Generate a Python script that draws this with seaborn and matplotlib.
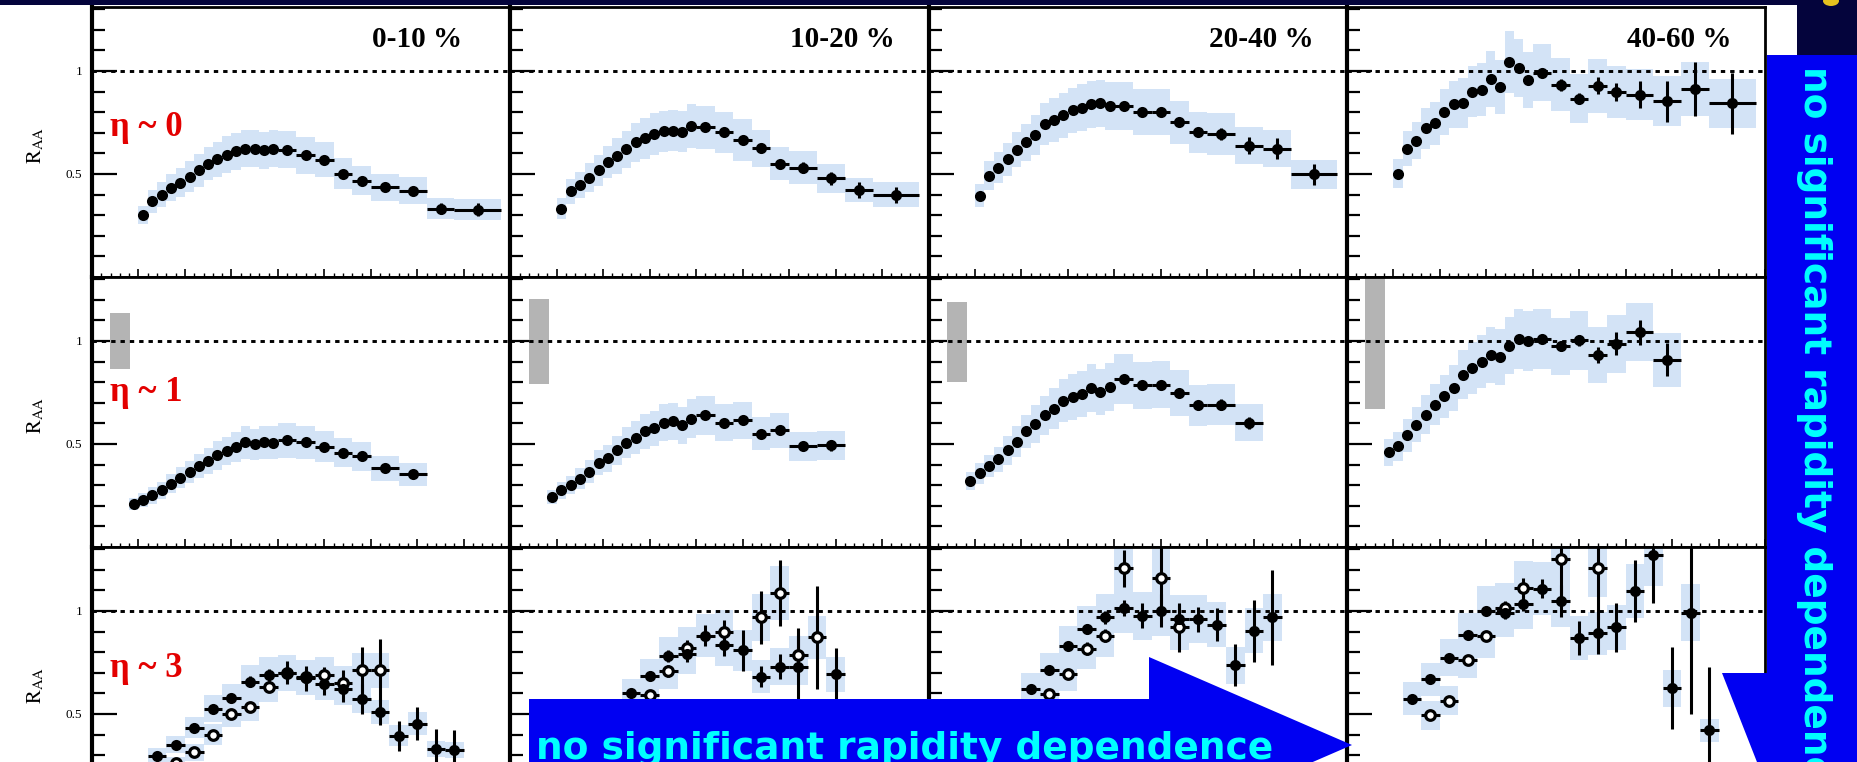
import numpy as np
import pandas as pd
import matplotlib
matplotlib.use("Agg")
import matplotlib.pyplot as plt
from matplotlib.patches import Polygon, Rectangle, Ellipse
from matplotlib.ticker import FixedLocator, MultipleLocator, FuncFormatter
import seaborn as sns

sns.set_theme(style="white")
plt.rcParams["font.family"] = ["Liberation Serif", "DejaVu Serif"]
plt.rcParams["mathtext.fontset"] = "stix"

nan = np.nan

# ---------------------------------------------------------------- labels
CENTRALITY = ["0-10 %", "10-20 %", "20-40 %", "40-60 %"]
ETA_LABELS = ["\u03b7 ~ 0", "\u03b7 ~ 1", "\u03b7 ~ 3"]
ETA_LABEL_Y = [0.727, 0.749, 0.720]
BANNER_TEXT = "no significant rapidity dependence"

# ---------------------------------------------------------------- eta ~ 0
PT_ETA0 = [1.1, 1.3, 1.5, 1.7, 1.9, 2.1, 2.3, 2.5, 2.7, 2.9, 3.1, 3.3, 3.5, 3.7, 3.9,
           4.2, 4.6, 5.0, 5.4, 5.8, 6.3, 6.9, 7.5, 8.3]
PT_ETA0_HW = [0.1, 0.1, 0.1, 0.1, 0.1, 0.1, 0.1, 0.1, 0.1, 0.1, 0.1, 0.1, 0.1, 0.1, 0.1,
              0.2, 0.2, 0.2, 0.2, 0.2, 0.3, 0.3, 0.3, 0.5]

RAA_ETA0_C0 = [0.300, 0.367, 0.400, 0.434, 0.458, 0.487, 0.518, 0.550, 0.571, 0.593, 0.609, 0.622,
               0.622, 0.614, 0.622, 0.617, 0.590, 0.569, 0.502, 0.467, 0.435, 0.418, 0.332, 0.327]
STAT_ETA0_C0 = [0.005, 0.005, 0.005, 0.005, 0.005, 0.005, 0.005, 0.005, 0.005, 0.005, 0.005, 0.005,
                0.005, 0.005, 0.005, 0.008, 0.010, 0.012, 0.013, 0.015, 0.018, 0.020, 0.025, 0.030]
SYS_ETA0_C0 = [0.045, 0.055, 0.060, 0.065, 0.070, 0.075, 0.080, 0.080, 0.085, 0.090, 0.090, 0.090,
               0.090, 0.090, 0.090, 0.090, 0.090, 0.085, 0.075, 0.070, 0.065, 0.065, 0.050, 0.050]

RAA_ETA0_C1 = [0.332, 0.415, 0.446, 0.482, 0.518, 0.558, 0.587, 0.619, 0.654, 0.673, 0.694, 0.707,
               0.710, 0.705, 0.733, 0.726, 0.702, 0.665, 0.625, 0.550, 0.531, 0.478, 0.422, 0.399]
STAT_ETA0_C1 = [0.006, 0.006, 0.006, 0.006, 0.006, 0.006, 0.006, 0.006, 0.006, 0.006, 0.006, 0.006,
                0.006, 0.006, 0.006, 0.010, 0.012, 0.015, 0.018, 0.020, 0.025, 0.030, 0.040, 0.040]
SYS_ETA0_C1 = [0.050, 0.060, 0.065, 0.070, 0.075, 0.080, 0.085, 0.090, 0.095, 0.100, 0.100, 0.100,
               0.100, 0.100, 0.105, 0.105, 0.100, 0.100, 0.090, 0.080, 0.080, 0.070, 0.060, 0.060]

RAA_ETA0_C2 = [0.394, 0.491, 0.530, 0.571, 0.617, 0.654, 0.689, 0.742, 0.762, 0.785, 0.809, 0.821,
               0.837, 0.842, 0.829, 0.829, 0.800, 0.800, 0.750, 0.702, 0.694, 0.638, 0.622, 0.498]
STAT_ETA0_C2 = [0.006, 0.006, 0.006, 0.006, 0.006, 0.006, 0.006, 0.006, 0.006, 0.006, 0.006, 0.006,
                0.006, 0.006, 0.006, 0.010, 0.012, 0.015, 0.018, 0.020, 0.030, 0.040, 0.050, 0.050]
SYS_ETA0_C2 = [0.055, 0.070, 0.075, 0.080, 0.085, 0.090, 0.095, 0.100, 0.105, 0.110, 0.110, 0.115,
               0.115, 0.115, 0.115, 0.115, 0.110, 0.110, 0.105, 0.100, 0.100, 0.090, 0.090, 0.070]

RAA_ETA0_C3 = [0.502, 0.622, 0.662, 0.721, 0.746, 0.800, 0.837, 0.845, 0.900, 0.909, 0.962, 0.922,
               1.045, 1.013, 0.957, 0.992, 0.933, 0.866, 0.928, 0.898, 0.885, 0.853, 0.912, 0.842]
STAT_ETA0_C3 = [0.008, 0.008, 0.008, 0.008, 0.008, 0.008, 0.008, 0.008, 0.008, 0.008, 0.008, 0.008,
                0.008, 0.008, 0.008, 0.015, 0.030, 0.025, 0.040, 0.045, 0.064, 0.100, 0.130, 0.147]
SYS_ETA0_C3 = [0.070, 0.085, 0.090, 0.100, 0.105, 0.110, 0.115, 0.120, 0.125, 0.130, 0.135, 0.130,
               0.150, 0.140, 0.135, 0.140, 0.130, 0.120, 0.130, 0.125, 0.125, 0.120, 0.130, 0.120]

# ---------------------------------------------------------------- eta ~ 1
PT_ETA1 = [0.9, 1.1, 1.3, 1.5, 1.7, 1.9, 2.1, 2.3, 2.5, 2.7, 2.9, 3.1, 3.3, 3.5, 3.7, 3.9,
           4.2, 4.6, 5.0, 5.4, 5.8, 6.3, 6.9]
PT_ETA1_HW = [0.1, 0.1, 0.1, 0.1, 0.1, 0.1, 0.1, 0.1, 0.1, 0.1, 0.1, 0.1, 0.1, 0.1, 0.1, 0.1,
              0.2, 0.2, 0.2, 0.2, 0.2, 0.3, 0.3]

RAA_ETA1_C0 = [0.208, 0.228, 0.251, 0.275, 0.307, 0.337, 0.364, 0.393, 0.417, 0.446, 0.466, 0.485,
               0.509, 0.498, 0.509, 0.506, 0.518, 0.509, 0.486, 0.457, 0.441, 0.382, 0.353]
STAT_ETA1_C0 = [0.005, 0.005, 0.005, 0.005, 0.005, 0.005, 0.005, 0.005, 0.005, 0.005, 0.005, 0.005,
                0.005, 0.005, 0.005, 0.005, 0.008, 0.010, 0.012, 0.013, 0.015, 0.018, 0.020]
SYS_ETA1_C0 = [0.030, 0.035, 0.040, 0.040, 0.045, 0.050, 0.055, 0.060, 0.065, 0.070, 0.070, 0.075,
               0.080, 0.075, 0.080, 0.080, 0.085, 0.080, 0.075, 0.070, 0.070, 0.060, 0.055]

RAA_ETA1_C1 = [0.243, 0.275, 0.300, 0.332, 0.366, 0.409, 0.430, 0.469, 0.506, 0.530, 0.562, 0.575,
               0.602, 0.610, 0.591, 0.623, 0.639, 0.602, 0.615, 0.549, 0.567, 0.489, 0.493]
STAT_ETA1_C1 = [0.006, 0.006, 0.006, 0.006, 0.006, 0.006, 0.006, 0.006, 0.006, 0.006, 0.006, 0.006,
                0.006, 0.006, 0.006, 0.006, 0.010, 0.012, 0.015, 0.018, 0.020, 0.020, 0.025]
SYS_ETA1_C1 = [0.035, 0.040, 0.045, 0.050, 0.055, 0.060, 0.065, 0.070, 0.075, 0.080, 0.085, 0.085,
               0.090, 0.090, 0.090, 0.095, 0.095, 0.090, 0.090, 0.080, 0.085, 0.070, 0.070]

RAA_ETA1_C2 = [0.320, 0.357, 0.393, 0.425, 0.470, 0.510, 0.562, 0.597, 0.639, 0.671, 0.710, 0.728,
               0.742, 0.771, 0.752, 0.776, 0.816, 0.784, 0.787, 0.747, 0.687, 0.691, 0.602]
STAT_ETA1_C2 = [0.006, 0.006, 0.006, 0.006, 0.006, 0.006, 0.006, 0.006, 0.006, 0.006, 0.006, 0.006,
                0.006, 0.006, 0.006, 0.006, 0.010, 0.012, 0.015, 0.018, 0.020, 0.025, 0.030]
SYS_ETA1_C2 = [0.045, 0.050, 0.055, 0.060, 0.070, 0.075, 0.080, 0.090, 0.095, 0.100, 0.105, 0.110,
               0.110, 0.115, 0.110, 0.115, 0.120, 0.115, 0.115, 0.110, 0.100, 0.100, 0.090]

RAA_ETA1_C3 = [0.460, 0.489, 0.543, 0.594, 0.642, 0.691, 0.731, 0.771, 0.836, 0.868, 0.900, 0.932,
               0.921, 0.977, 1.008, 1.000, 1.008, 0.973, 1.002, 0.932, 0.986, 1.042, 0.908]
STAT_ETA1_C3 = [0.008, 0.008, 0.008, 0.008, 0.008, 0.008, 0.008, 0.008, 0.008, 0.008, 0.008, 0.008,
                0.008, 0.008, 0.008, 0.008, 0.015, 0.020, 0.025, 0.040, 0.056, 0.060, 0.080]
SYS_ETA1_C3 = [0.065, 0.070, 0.080, 0.085, 0.095, 0.100, 0.105, 0.110, 0.120, 0.125, 0.130, 0.135,
               0.135, 0.140, 0.145, 0.145, 0.145, 0.140, 0.145, 0.135, 0.140, 0.140, 0.130]

# normalisation uncertainty (grey box around unity)
NORM_PT = [0.61]
NORM_HW = [0.215]
NORM_LO = [0.865, 0.790, 0.800, 0.670]
NORM_HI = [1.134, 1.205, 1.190, 1.330]

# ---------------------------------------------------------------- eta ~ 3 (two charge signs)
PT_ETA3 = [1.4, 1.8, 2.2, 2.6, 3.0, 3.4, 3.8, 4.2, 4.6, 5.0, 5.4, 5.8, 6.2, 6.6, 7.0, 7.4, 7.8]
PT_ETA3_HW = [0.2, 0.2, 0.2, 0.2, 0.2, 0.2, 0.2, 0.2, 0.2, 0.2, 0.2, 0.2, 0.2, 0.2, 0.2, 0.2, 0.2]

RAA_NEG_C0 = [0.298, 0.351, 0.434, 0.525, 0.576, 0.657, 0.689, 0.700, 0.673, 0.646, 0.620, 0.574,
              0.509, 0.394, 0.453, 0.330, 0.325]
STAT_NEG_C0 = [0.015, 0.015, 0.020, 0.020, 0.020, 0.025, 0.030, 0.056, 0.060, 0.056, 0.064, 0.072,
               0.064, 0.072, 0.080, 0.096, 0.096]
SYS_NEG_C0 = [0.035, 0.040, 0.050, 0.065, 0.070, 0.080, 0.085, 0.085, 0.080, 0.080, 0.075, 0.070,
              0.060, 0.050, 0.055, 0.040, 0.040]
RAA_POS_C0 = [nan, 0.260, 0.314, 0.400, 0.498, 0.533, 0.633, 0.697, 0.680, 0.689, 0.652, 0.713,
              0.713, nan, nan, nan, nan]
STAT_POS_C0 = [nan, 0.015, 0.015, 0.020, 0.020, 0.020, 0.025, 0.030, 0.040, 0.040, 0.060, 0.110,
               0.150, nan, nan, nan, nan]
SYS_POS_C0 = [nan, 0.030, 0.040, 0.050, 0.060, 0.065, 0.075, 0.085, 0.080, 0.085, 0.080, 0.085,
              0.085, nan, nan, nan, nan]

RAA_NEG_C1 = [nan, nan, nan, 0.601, 0.686, 0.781, 0.790, 0.880, 0.833, 0.809, 0.681, 0.729,
              0.729, nan, 0.692, nan, nan]
STAT_NEG_C1 = [nan, nan, nan, 0.020, 0.020, 0.030, 0.040, 0.050, 0.050, 0.100, 0.050, 0.060,
               0.190, nan, 0.130, nan, nan]
SYS_NEG_C1 = [nan, nan, nan, 0.070, 0.080, 0.090, 0.095, 0.105, 0.100, 0.100, 0.080, 0.090,
              0.090, nan, 0.085, nan, nan]
RAA_POS_C1 = [nan, nan, nan, nan, 0.590, 0.708, 0.820, nan, 0.896, nan, 0.968, 1.088,
              0.785, 0.872, nan, nan, nan]
STAT_POS_C1 = [nan, nan, nan, nan, 0.020, 0.030, 0.040, nan, 0.060, nan, 0.130, 0.160,
               0.100, 0.250, nan, nan, nan]
SYS_POS_C1 = [nan, nan, nan, nan, 0.070, 0.085, 0.100, nan, 0.110, nan, 0.115, 0.130,
              0.095, 0.105, nan, nan, nan]

RAA_NEG_C2 = [nan, nan, 0.622, 0.713, 0.828, 0.912, 0.968, 1.013, 0.976, 1.000, 0.960, 0.960,
              0.933, 0.737, 0.904, 0.968, nan]
STAT_NEG_C2 = [nan, nan, 0.020, 0.020, 0.020, 0.025, 0.030, 0.040, 0.060, 0.080, 0.070, 0.060,
               0.080, 0.100, 0.150, 0.230, nan]
SYS_NEG_C2 = [nan, nan, 0.075, 0.085, 0.100, 0.110, 0.115, 0.120, 0.115, 0.120, 0.115, 0.115,
              0.110, 0.090, 0.110, 0.115, nan]
RAA_POS_C2 = [nan, nan, nan, 0.598, 0.694, 0.817, 0.880, 1.207, nan, 1.159, 0.920, nan,
              nan, nan, nan, nan, nan]
STAT_POS_C2 = [nan, nan, nan, 0.020, 0.020, 0.030, 0.030, 0.090, nan, 0.160, 0.120, nan,
               nan, nan, nan, nan, nan]
SYS_POS_C2 = [nan, nan, nan, 0.070, 0.085, 0.100, 0.105, 0.145, nan, 0.140, 0.110, nan,
              nan, nan, nan, nan, nan]

RAA_NEG_C3 = [0.573, 0.668, 0.772, 0.884, 1.000, 0.992, 1.035, 1.108, 1.048, 0.869, 0.891, 0.920,
              1.096, 1.270, 0.625, 0.992, 0.420]
STAT_NEG_C3 = [0.015, 0.015, 0.020, 0.020, 0.020, 0.030, 0.035, 0.045, 0.080, 0.083, 0.100, 0.120,
               0.150, 0.230, 0.200, 0.490, 0.310]
SYS_NEG_C3 = [0.080, 0.080, 0.090, 0.105, 0.120, 0.120, 0.125, 0.130, 0.125, 0.105, 0.105, 0.110,
              0.130, 0.150, 0.090, 0.140, 0.056]
RAA_POS_C3 = [nan, 0.494, 0.565, 0.764, 0.877, 1.016, 1.110, nan, 1.252, nan, 1.210, nan,
              nan, nan, nan, nan, nan]
STAT_POS_C3 = [nan, 0.015, 0.015, 0.020, 0.020, 0.030, 0.050, nan, 0.200, nan, 0.250, nan,
               nan, nan, nan, nan, nan]
SYS_POS_C3 = [nan, 0.070, 0.070, 0.090, 0.105, 0.120, 0.130, nan, 0.150, nan, 0.145, nan,
              nan, nan, nan, nan, nan]

# ---------------------------------------------------------------- style
BAND = "#d3e3f6"
NORM_GREY = "#b4b4b4"
ETA_RED = "#e30000"
SLIDE_BLUE = "#0000f2"
SLIDE_CYAN = "#00ffff"
NAVY = "#04043c"

FIG_W, FIG_H, DPI = 1857, 762, 100
COL_LEFT = [92.0, 510.25, 928.5, 1346.75]
ROW_TOP = [7.0, 277.0, 547.0]
PANEL_W, PANEL_H = 418.25, 270.0


def fx(px):
    return px / FIG_W


def fy(py):
    return 1.0 - py / FIG_H


def make_df(pt, hw, raa, stat, sys_):
    return pd.DataFrame({"pt": pt, "hw": hw, "raa": raa, "stat": stat, "sys": sys_}).dropna(subset=["raa"])


def style_axes(ax, first_col):
    ax.set_xlim(0, 9)
    ax.set_ylim(0, 1.31)
    ax.set_facecolor("white")
    ax.grid(False)
    for sp in ax.spines.values():
        sp.set_visible(True)
        sp.set_color("black")
        sp.set_linewidth(2.0)
    ax.spines["left"].set_linewidth(3.0)
    ax.yaxis.set_major_locator(FixedLocator([0.5, 1.0]))
    ax.yaxis.set_minor_locator(FixedLocator([0.1, 0.2, 0.3, 0.4, 0.6, 0.7, 0.8, 0.9, 1.1, 1.2, 1.3]))
    ax.yaxis.set_major_formatter(FuncFormatter(lambda v, p: f"{v:g}"))
    ax.xaxis.set_major_locator(MultipleLocator(1))
    ax.xaxis.set_minor_locator(MultipleLocator(0.2))
    ax.tick_params(axis="y", which="major", direction="in", length=18, width=1.6, color="black",
                   left=True, right=False, labelleft=first_col, labelsize=9.5, pad=7,
                   labelcolor="black")
    ax.tick_params(axis="y", which="minor", direction="in", length=9.5, width=1.6, color="black",
                   left=True, right=False)
    ax.tick_params(axis="x", which="major", direction="in", length=6, width=1.2, color="black",
                   bottom=True, top=False, labelbottom=False)
    ax.tick_params(axis="x", which="minor", direction="in", length=3, width=1.0, color="black",
                   bottom=True, top=False)
    ax.set_xlabel("")
    ax.set_ylabel("")
    ax.axhline(1.0, color="black", lw=2.1, ls=(0, (1.5, 1.7)), zorder=2)


def draw_bands(ax, df):
    ax.bar(df["pt"], 2 * df["sys"], width=2 * df["hw"], bottom=df["raa"] - df["sys"],
           color=BAND, linewidth=0, zorder=1, align="center")


def draw_points(ax, df, hollow=False):
    ax.errorbar(df["pt"], df["raa"], xerr=df["hw"], yerr=df["stat"], fmt="none",
                ecolor="black", elinewidth=2.2, capsize=0, zorder=3)
    if hollow:
        sns.scatterplot(x=df["pt"], y=df["raa"], ax=ax, marker="o", s=48, color="white",
                        edgecolor="black", linewidth=2.3, zorder=4, legend=False)
    else:
        sns.scatterplot(x=df["pt"], y=df["raa"], ax=ax, marker="o", s=64, color="black",
                        edgecolor="black", linewidth=0, zorder=4, legend=False)


fig = plt.figure(figsize=(FIG_W / DPI, FIG_H / DPI), dpi=DPI)
fig.patch.set_facecolor("white")

eta0 = [(RAA_ETA0_C0, STAT_ETA0_C0, SYS_ETA0_C0), (RAA_ETA0_C1, STAT_ETA0_C1, SYS_ETA0_C1),
        (RAA_ETA0_C2, STAT_ETA0_C2, SYS_ETA0_C2), (RAA_ETA0_C3, STAT_ETA0_C3, SYS_ETA0_C3)]
eta1 = [(RAA_ETA1_C0, STAT_ETA1_C0, SYS_ETA1_C0), (RAA_ETA1_C1, STAT_ETA1_C1, SYS_ETA1_C1),
        (RAA_ETA1_C2, STAT_ETA1_C2, SYS_ETA1_C2), (RAA_ETA1_C3, STAT_ETA1_C3, SYS_ETA1_C3)]
eta3_neg = [(RAA_NEG_C0, STAT_NEG_C0, SYS_NEG_C0), (RAA_NEG_C1, STAT_NEG_C1, SYS_NEG_C1),
            (RAA_NEG_C2, STAT_NEG_C2, SYS_NEG_C2), (RAA_NEG_C3, STAT_NEG_C3, SYS_NEG_C3)]
eta3_pos = [(RAA_POS_C0, STAT_POS_C0, SYS_POS_C0), (RAA_POS_C1, STAT_POS_C1, SYS_POS_C1),
            (RAA_POS_C2, STAT_POS_C2, SYS_POS_C2), (RAA_POS_C3, STAT_POS_C3, SYS_POS_C3)]

for row in range(3):
    for col in range(4):
        rect = [fx(COL_LEFT[col]), fy(ROW_TOP[row] + PANEL_H), PANEL_W / FIG_W, PANEL_H / FIG_H]
        ax = fig.add_axes(rect)
        if row == 0:
            raa, stat, sys_ = eta0[col]
            df = make_df(PT_ETA0, PT_ETA0_HW, raa, stat, sys_)
            draw_bands(ax, df)
            draw_points(ax, df)
        elif row == 1:
            raa, stat, sys_ = eta1[col]
            df = make_df(PT_ETA1, PT_ETA1_HW, raa, stat, sys_)
            ax.bar(NORM_PT, [NORM_HI[col] - NORM_LO[col]], width=2 * NORM_HW[0],
                   bottom=[NORM_LO[col]], color=NORM_GREY, linewidth=0, zorder=1.5)
            draw_bands(ax, df)
            draw_points(ax, df)
        else:
            df_neg = make_df(PT_ETA3, PT_ETA3_HW, *eta3_neg[col])
            df_pos = make_df(PT_ETA3, PT_ETA3_HW, *eta3_pos[col])
            draw_bands(ax, df_neg)
            draw_bands(ax, df_pos)
            draw_points(ax, df_pos, hollow=True)
            draw_points(ax, df_neg)
        style_axes(ax, col == 0)
        if row == 0:
            ax.text(0.67, 0.878, CENTRALITY[col], transform=ax.transAxes, fontsize=21,
                    fontweight="bold", ha="left", va="center", color="black", zorder=6)
        if col == 0:
            ax.text(0.39, ETA_LABEL_Y[row], ETA_LABELS[row], fontsize=25, fontweight="bold",
                    color=ETA_RED, ha="left", va="center", zorder=6)
            fig.text(fx(36), fy(ROW_TOP[row] + PANEL_H / 2 + 3), r"$\mathrm{R}_{\mathrm{AA}}$",
                     rotation=90, fontsize=15, ha="center", va="center", color="black")

# ---------------------------------------------------------------- slide decorations
fig.add_artist(Rectangle((0, fy(5)), 1, 5 / FIG_H, transform=fig.transFigure,
                         facecolor=NAVY, edgecolor="none", zorder=9))
fig.add_artist(Rectangle((fx(1797), fy(55)), fx(60), 55 / FIG_H, transform=fig.transFigure,
                         facecolor=NAVY, edgecolor="none", zorder=9))
fig.add_artist(Ellipse((fx(1831), fy(1)), fx(16), 10 / FIG_H, transform=fig.transFigure,
                       facecolor="#e6c21e", edgecolor="none", zorder=9.5))

arrow_right = [(529, 699), (1149, 699), (1149, 657), (1352, 745), (1149, 833), (1149, 791), (529, 791)]
fig.add_artist(Polygon([(fx(x), fy(y)) for x, y in arrow_right], closed=True,
                       transform=fig.transFigure, facecolor=SLIDE_BLUE, edgecolor="none", zorder=10))
arrow_down = [(1767, 55), (1875, 55), (1875, 673), (1920, 673), (1821, 925), (1722, 673), (1767, 673)]
fig.add_artist(Polygon([(fx(x), fy(y)) for x, y in arrow_down], closed=True,
                       transform=fig.transFigure, facecolor=SLIDE_BLUE, edgecolor="none", zorder=10))

banner = fig.text(fx(536), fy(759), BANNER_TEXT, color=SLIDE_CYAN, fontsize=24,
                  fontweight="bold", family=["DejaVu Sans"], ha="left", va="baseline", zorder=11)
fig.canvas.draw()
w = banner.get_window_extent().width
size = 24 * 739.0 / w
banner.set_fontsize(size)

fig.text(fx(1804), fy(66), BANNER_TEXT, color=SLIDE_CYAN, fontsize=size, fontweight="bold",
         family=["DejaVu Sans"], rotation=-90, rotation_mode="anchor", ha="left", va="baseline",
         zorder=11)

fig.savefig("out.png", dpi=DPI, facecolor="white")
